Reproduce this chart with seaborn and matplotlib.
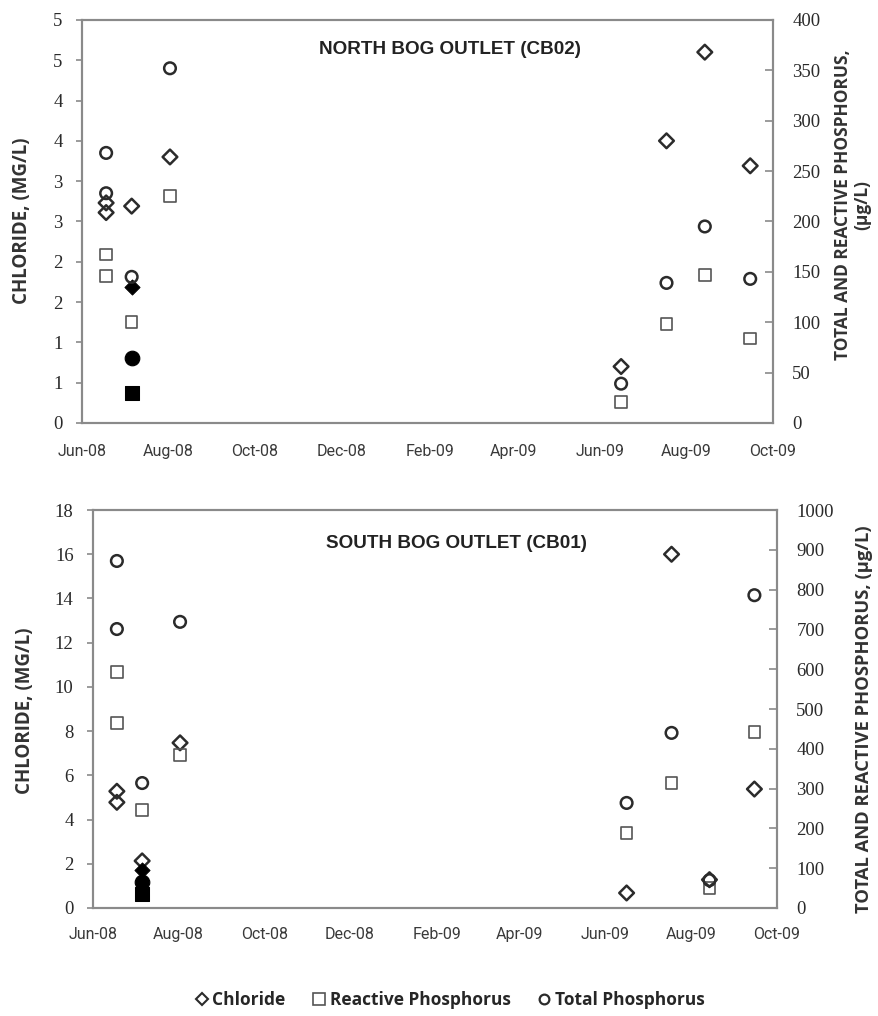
import numpy as np
import pandas as pd
import matplotlib
matplotlib.use("Agg")
import matplotlib.pyplot as plt
import matplotlib.dates as mdates
from matplotlib.lines import Line2D
import seaborn as sns

sns.set_style("white")

# ---- sampling dates ----
dates = pd.to_datetime(["2008-06-18", "2008-06-18", "2008-07-06", "2008-08-02",
                        "2009-06-16", "2009-07-18", "2009-08-14", "2009-09-15"])
filled_date = pd.to_datetime(["2008-07-06"])

# ---- North Bog Outlet (CB02) ----
north_chloride = [2.73, 2.61, 2.69, 3.30, 0.70, 3.50, 4.60, 3.19]      # mg/L
north_reactive_p = [167, 146, 100, 225, 21, 98, 147, 84]              # ug/L
north_total_p = [268, 228, 145, 352, 39, 139, 195, 143]               # ug/L
north_filled = {"chloride": [1.69], "reactive": [30], "total": [64]}

# ---- South Bog Outlet (CB01) ----
south_chloride = [5.28, 4.78, 2.13, 7.47, 0.68, 16.0, 1.28, 5.38]
south_reactive_p = [593, 465, 246, 384, 188, 314, 50, 442]
south_total_p = [872, 701, 314, 719, 264, 440, 70, 786]
south_filled = {"chloride": [1.70], "reactive": [35], "total": [65]}

titles = ["NORTH BOG OUTLET (CB02)", "SOUTH BOG OUTLET (CB01)"]
north_left_ticks = [0, 0.5, 1, 1.5, 2, 2.5, 3, 3.5, 4, 4.5, 5]
north_left_labels = ["0", "1", "1", "2", "2", "3", "3", "4", "4", "5", "5"]
north_right_ticks = list(range(0, 401, 50))
south_left_ticks = list(range(0, 19, 2))
south_right_ticks = list(range(0, 1001, 100))

SERIF = ["Liberation Serif", "DejaVu Serif"]
NARROW = ["Roboto", "DejaVu Sans"]
TITLE = ["Liberation Sans", "DejaVu Sans"]
LABEL = ["Open Sans", "DejaVu Sans"]
EDGE = "#2b2b2b"
SPINE = "#8a8a8a"

fig = plt.figure(figsize=(8.79, 10.16), dpi=100)
ax_top = fig.add_axes([0.0933, 0.5837, 0.786, 0.3967])
ax_bot = fig.add_axes([0.1058, 0.1063, 0.778, 0.3917])


def draw_panel(ax, chloride, reactive, total, filled, left_lim, right_lim,
               left_ticks, left_labels, right_ticks, title, title_xy,
               left_label_xy, right_label, right_label_xy, right_label_size,
               date_pad):
    axr = ax.twinx()
    df = pd.DataFrame({"date": dates, "chloride": chloride,
                       "reactive": reactive, "total": total})
    fd = pd.DataFrame({"date": filled_date, **filled})

    hollow = dict(facecolor="none", edgecolor=EDGE, linewidth=1.8, legend=False)
    sns.scatterplot(data=df, x="date", y="chloride", marker="D", s=56, ax=ax, **hollow)
    sns.scatterplot(data=df, x="date", y="reactive", marker="s", s=70, ax=axr,
                    facecolor="none", edgecolor="#555555", linewidth=1.2, legend=False)
    sns.scatterplot(data=df, x="date", y="total", marker="o", s=70, ax=axr, **hollow)

    solid = dict(color="black", edgecolor="black", legend=False)
    sns.scatterplot(data=fd, x="date", y="chloride", marker="D", s=60, ax=ax, **solid)
    sns.scatterplot(data=fd, x="date", y="total", marker="o", s=110, ax=axr, **solid)
    sns.scatterplot(data=fd, x="date", y="reactive", marker="s", s=90, ax=axr, **solid)

    xmin, xmax = pd.Timestamp("2008-06-01"), pd.Timestamp("2009-10-01")
    for a in (ax, axr):
        a.set_xlim(xmin, xmax)
        a.set_xlabel("")
        a.set_ylabel("")
        for sp in a.spines.values():
            sp.set_color(SPINE)
            sp.set_linewidth(1.5)
    ax.set_ylim(*left_lim)
    axr.set_ylim(*right_lim)

    ax.xaxis.set_major_locator(mdates.MonthLocator(bymonth=[2, 4, 6, 8, 10, 12]))
    ax.xaxis.set_minor_locator(mdates.MonthLocator())
    ax.xaxis.set_major_formatter(mdates.DateFormatter("%b-%y"))
    ax.tick_params(axis="x", which="both", direction="inout", length=7,
                   width=1.2, color=SPINE, pad=date_pad)
    ax.tick_params(axis="x", which="major", labelsize=11.5, labelcolor="#3a3a3a")
    for lbl in ax.get_xticklabels():
        lbl.set_fontfamily(NARROW)

    ax.set_yticks(left_ticks)
    if left_labels is not None:
        ax.set_yticklabels(left_labels)
    else:
        ax.set_yticklabels([str(t) for t in left_ticks])
    ax.tick_params(axis="y", direction="out", length=4, width=1.2, color=SPINE,
                   labelsize=13.5, pad=10, labelcolor="#2a2a2a")
    for lbl in ax.get_yticklabels():
        lbl.set_fontfamily(SERIF)

    axr.set_yticks(right_ticks)
    axr.set_yticklabels([str(t) for t in right_ticks])
    axr.tick_params(axis="y", direction="in", length=6, width=1.2, color=SPINE,
                    labelsize=13.5, pad=14, labelcolor="#2a2a2a")
    for lbl in axr.get_yticklabels():
        lbl.set_fontfamily(SERIF)

    fig.text(title_xy[0], title_xy[1], title, ha="center", va="center",
             fontsize=13.6, fontweight="bold", family=TITLE, color="#222222")
    fig.text(left_label_xy[0], left_label_xy[1], "CHLORIDE, (MG/L)", rotation=90,
             ha="center", va="center", fontsize=13.5, fontweight="bold",
             family=LABEL, color="#333333")
    fig.text(right_label_xy[0], right_label_xy[1], right_label, rotation=90,
             ha="center", va="center", fontsize=right_label_size,
             fontweight="bold", family=LABEL, color="#333333", linespacing=1.1)
    return axr


H = 1016.0
W = 879.0
draw_panel(ax_top, north_chloride, north_reactive_p, north_total_p, north_filled,
           (0, 5), (0, 400), north_left_ticks, north_left_labels, north_right_ticks,
           titles[0], (450 / W, 1 - 50 / H), (22 / W, 1 - 221 / H),
           "TOTAL AND REACTIVE PHOSPHORUS,\n(µg/L)", (853 / W, 1 - 205 / H), 12.5, 12)
draw_panel(ax_bot, south_chloride, south_reactive_p, south_total_p, south_filled,
           (0, 18), (0, 1000), south_left_ticks, None, south_right_ticks,
           titles[1], (457 / W, 1 - 543 / H), (25 / W, 1 - 711 / H),
           "TOTAL AND REACTIVE PHOSPHORUS, (µg/L)", (864 / W, 1 - 719 / H), 13.2, 10)

handles = [
    Line2D([], [], marker="D", ls="none", mfc="none", mec=EDGE, mew=1.5, ms=6),
    Line2D([], [], marker="s", ls="none", mfc="none", mec="#555555", mew=1.2, ms=8),
    Line2D([], [], marker="o", ls="none", mfc="none", mec=EDGE, mew=1.6, ms=7),
]
fig.legend(handles, ["Chloride", "Reactive Phosphorus", "Total Phosphorus"],
           loc="center", bbox_to_anchor=(0.511, 1 - 1000 / H), ncol=3,
           frameon=False, handletextpad=0.15, columnspacing=1.5, handlelength=0.9,
           prop={"family": LABEL, "weight": "bold", "size": 12.5})

fig.savefig("out.png", dpi=100, facecolor="white")
